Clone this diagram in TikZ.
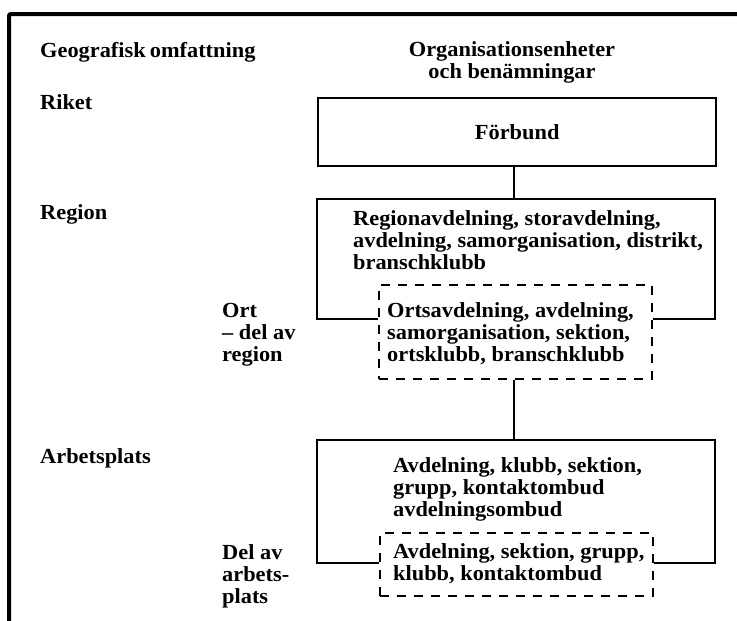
\documentclass[tikz,border=0pt]{standalone}
\usepackage{fontspec}
\setmainfont{Liberation Serif}[FakeStretch=1.04]
\begin{document}
\begin{tikzpicture}[x=1pt,y=-1pt,
  every node/.style={font=\fontsize{21.5}{21.8}\selectfont\bfseries, inner sep=0pt},
  lbl/.style={anchor=base west, align=left},
  solidline/.style={line width=2.4pt, line join=miter},
  dashbox/.style={draw, line width=2.4pt, dash pattern=on 9pt off 8pt, minimum width=273pt, anchor=north west},
  framebar/.style={line width=4pt}]
\useasboundingbox (0,0) rectangle (737,621);
% frame
\coordinate (fA) at (9,621);
\coordinate (fB) at (9,14);
\coordinate (fC) at (737,14);
\draw[framebar, rounded corners=2pt] (fA) -- (fB) -- (fC);
% headers (base = baseline of last line)
\node[lbl] (hgeo) at (40,57) {Geografisk\hspace{-1.5pt} omfattning};
\node[anchor=base, align=center] (horg) at (512,78) {Organisationsenheter\\och benämningar};
% left labels
\node[lbl] (lriket) at (40,109) {Riket};
\node[lbl] (lregion) at (40,219) {Region};
\node[lbl] (lort) at (222,361) {Ort\\– del av\\region};
\node[lbl] (larb) at (40,463) {Arbetsplats};
\node[lbl] (ldel) at (222,603) {Del av\\arbets-\\plats};
% Förbund
\node[draw, solidline, minimum width=398pt, minimum height=68pt, anchor=north west] (forb) at (317,97) {Förbund};
% Region block
\coordinate (rTL) at (317,199);
\coordinate (rTR) at (715,199);
\coordinate (rBL) at (317,319);
\coordinate (rBR) at (715,319);
\coordinate (rtop) at (514,199);
\node[lbl] (rtext) at (353,269) {Regionavdelning, storavdelning,\\avdelning, samorganisation, distrikt,\\branschklubb};
\node[dashbox, minimum height=94pt] (ort) at (378,284) {};
\node[lbl] (orttext) at (387,361) {Ortsavdelning, avdelning,\\samorganisation, sektion,\\ortsklubb, branschklubb};
\draw[solidline] (ort.west |- rBL) -- (rBL) -- (rTL) -- (rTR) -- (rBR) -- (ort.east |- rBR);
\draw[solidline] (forb.south -| rtop) -- (rtop);
% Arbetsplats block
\coordinate (aTL) at (317,440);
\coordinate (aTR) at (715,440);
\coordinate (aBL) at (317,563);
\coordinate (aBR) at (715,563);
\coordinate (atop) at (514,440);
\node[lbl] (atext) at (393,516) {Avdelning, klubb, sektion,\\grupp, kontaktombud\\avdelningsombud};
\node[dashbox, minimum height=63pt] (del) at (379,532) {};
\node[lbl] (deltext) at (393,580) {Avdelning, sektion, grupp,\\klubb, kontaktombud};
\draw[solidline] (del.west |- aBL) -- (aBL) -- (aTL) -- (aTR) -- (aBR) -- (del.east |- aBR);
\draw[solidline] (ort.south -| atop) -- (atop);
\end{tikzpicture}
\end{document}
